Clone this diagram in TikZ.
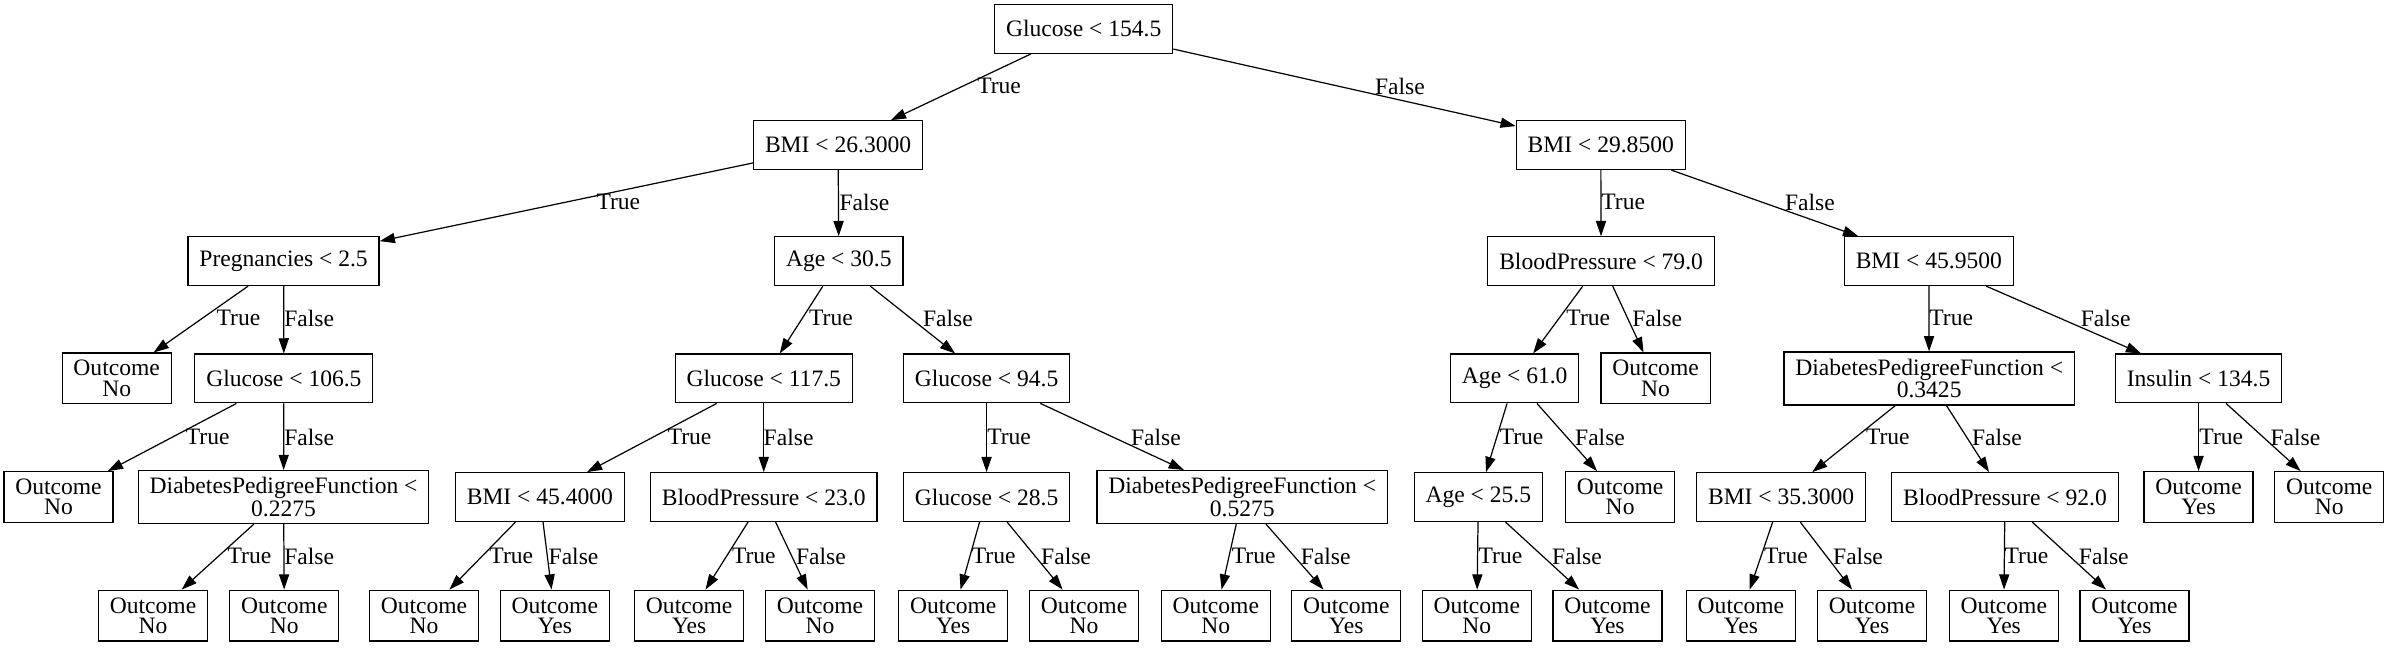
\documentclass[tikz,border=0pt]{standalone}
\usepackage{fontspec}
\setmainfont{Liberation Serif}
\usepackage{tikz}
\usetikzlibrary{arrows.meta}
\tikzstyle{split} = [draw, rectangle, line width=0.6pt, minimum height=24pt, inner xsep=5.6pt, align=center, font=\fontsize{11.6}{10}\selectfont]
\tikzstyle{leaf} = [split, minimum height=25pt]
\tikzstyle{branch} = [line width=0.6pt, -{Triangle[length=7.5pt, width=5pt]}]
\tikzstyle{cond} = [inner sep=0pt, font=\fontsize{11.6}{10}\selectfont]

\begin{document}
\begin{tikzpicture}[x=0.75pt, y=-0.75pt]
\useasboundingbox (0,0) rectangle (1568,425);

\node[split] (r) at (711.6,19) {Glucose < 154.5};

\node[split] (rT) at (550.3,95.3) {BMI < 26.3000};
\node[split] (rF) at (1051.1,95.3) {BMI < 29.8500};

\node[split] (rTT) at (186.2,171.5) {Pregnancies < 2.5};
\node[split] (rTF) at (550.8,171.5) {Age < 30.5};
\node[split] (rFT) at (1051.3,171.5) {BloodPressure < 79.0};
\node[split] (rFF) at (1266.5,171.5) {BMI < 45.9500};

\node[leaf] (rTTT) at (76.6,248.5) {Outcome\\No};
\node[split] (rTTF) at (186.4,248.5) {Glucose < 106.5};
\node[split] (rTFT) at (501.5,248.5) {Glucose < 117.5};
\node[split] (rTFF) at (647.8,248.5) {Glucose < 94.5};
\node[split] (rFTT) at (994.6,248.5) {Age < 61.0};
\node[leaf] (rFTF) at (1087.1,248.5) {Outcome\\No};
\node[leaf] (rFFT) at (1266.7,248.5) {DiabetesPedigreeFunction <\\0.3425};
\node[split] (rFFF) at (1443.6,248.5) {Insulin < 134.5};

\node[leaf] (rTTFT) at (38.4,326.4) {Outcome\\No};
\node[leaf] (rTTFF) at (186.2,326.4) {DiabetesPedigreeFunction <\\0.2275};
\node[split] (rTFTT) at (354.5,326.4) {BMI < 45.4000};
\node[split] (rTFTF) at (501.5,326.4) {BloodPressure < 23.0};
\node[split] (rTFFT) at (647.8,326.4) {Glucose < 28.5};
\node[leaf] (rTFFF) at (815.7,326.4) {DiabetesPedigreeFunction <\\0.5275};
\node[split] (rFTTT) at (970.7,326.4) {Age < 25.5};
\node[leaf] (rFTTF) at (1063.8,326.4) {Outcome\\No};
\node[split] (rFFTT) at (1169.5,326.4) {BMI < 35.3000};
\node[split] (rFFTF) at (1316.5,326.4) {BloodPressure < 92.0};
\node[leaf] (rFFFT) at (1443.6,326.4) {Outcome\\Yes};
\node[leaf] (rFFFF) at (1529.4,326.4) {Outcome\\No};

\node[leaf] (rTTFFT) at (100.5,404.2) {Outcome\\No};
\node[leaf] (rTTFFF) at (186.7,404.2) {Outcome\\No};
\node[leaf] (rTFTTT) at (278.4,404.2) {Outcome\\No};
\node[leaf] (rTFTTF) at (364.3,404.2) {Outcome\\Yes};
\node[leaf] (rTFTFT) at (452.5,404.2) {Outcome\\Yes};
\node[leaf] (rTFTFF) at (538.4,404.2) {Outcome\\No};
\node[leaf] (rTFFTT) at (625.9,404.2) {Outcome\\Yes};
\node[leaf] (rTFFTF) at (711.8,404.2) {Outcome\\No};
\node[leaf] (rTFFFT) at (798.3,404.2) {Outcome\\No};
\node[leaf] (rTFFFF) at (884,404.2) {Outcome\\Yes};
\node[leaf] (rFTTTT) at (969.7,404.2) {Outcome\\No};
\node[leaf] (rFTTTF) at (1055.5,404.2) {Outcome\\Yes};
\node[leaf] (rFFTTT) at (1143.1,404.2) {Outcome\\Yes};
\node[leaf] (rFFTTF) at (1229.2,404.2) {Outcome\\Yes};
\node[leaf] (rFFTFT) at (1315.7,404.2) {Outcome\\Yes};
\node[leaf] (rFFTFF) at (1401.5,404.2) {Outcome\\Yes};

\draw[branch] (r) -- (rT) node[cond] at (656,56.7) {True};
\draw[branch] (r) -- (rF) node[cond] at (919.2,56.7) {False};

\draw[branch] (rT) -- (rTT) node[cond] at (406,132.8) {True};
\draw[branch] (rT) -- (rTF) node[cond] at (567.6,132.8) {False};
\draw[branch] (rF) -- (rFT) node[cond] at (1065.8,132.8) {True};
\draw[branch] (rF) -- (rFF) node[cond] at (1188.4,132.8) {False};

\draw[branch] (rTT) -- (rTTT) node[cond] at (156.6,209) {True};
\draw[branch] (rTT) -- (rTTF) node[cond] at (203,209) {False};
\draw[branch] (rTF) -- (rTFT) node[cond] at (545.6,209) {True};
\draw[branch] (rTF) -- (rTFF) node[cond] at (622.4,209) {False};
\draw[branch] (rFT) -- (rFTT) node[cond] at (1042.9,209) {True};
\draw[branch] (rFT) -- (rFTF) node[cond] at (1088.1,209) {False};
\draw[branch] (rFF) -- (rFFT) node[cond] at (1281.2,209) {True};
\draw[branch] (rFF) -- (rFFF) node[cond] at (1382.6,209) {False};

\draw[branch] (rTTF) -- (rTTFT) node[cond] at (136.4,287.2) {True};
\draw[branch] (rTTF) -- (rTTFF) node[cond] at (203,287.2) {False};
\draw[branch] (rTFT) -- (rTFTT) node[cond] at (452.8,287.2) {True};
\draw[branch] (rTFT) -- (rTFTF) node[cond] at (517.8,287.2) {False};
\draw[branch] (rTFF) -- (rTFFT) node[cond] at (662.6,287.2) {True};
\draw[branch] (rTFF) -- (rTFFF) node[cond] at (759,287.2) {False};
\draw[branch] (rFTT) -- (rFTTT) node[cond] at (999.1,287.2) {True};
\draw[branch] (rFTT) -- (rFTTF) node[cond] at (1050.6,287.2) {False};
\draw[branch] (rFFT) -- (rFFTT) node[cond] at (1239.6,287.2) {True};
\draw[branch] (rFFT) -- (rFFTF) node[cond] at (1311.2,287.2) {False};
\draw[branch] (rFFF) -- (rFFFT) node[cond] at (1458.5,287.2) {True};
\draw[branch] (rFFF) -- (rFFFF) node[cond] at (1507.2,287.2) {False};

\draw[branch] (rTTFF) -- (rTTFFT) node[cond] at (163.8,365.3) {True};
\draw[branch] (rTTFF) -- (rTTFFF) node[cond] at (203,365.3) {False};
\draw[branch] (rTFTT) -- (rTFTTT) node[cond] at (335.7,365.3) {True};
\draw[branch] (rTFTT) -- (rTFTTF) node[cond] at (376.6,365.3) {False};
\draw[branch] (rTFTF) -- (rTFTFT) node[cond] at (495,365.3) {True};
\draw[branch] (rTFTF) -- (rTFTFF) node[cond] at (539,365.3) {False};
\draw[branch] (rTFFT) -- (rTFFTT) node[cond] at (652.5,365.3) {True};
\draw[branch] (rTFFT) -- (rTFFTF) node[cond] at (700,365.3) {False};
\draw[branch] (rTFFF) -- (rTFFFT) node[cond] at (823.2,365.3) {True};
\draw[branch] (rTFFF) -- (rTFFFF) node[cond] at (870.5,365.3) {False};
\draw[branch] (rFTTT) -- (rFTTTT) node[cond] at (985.2,365.3) {True};
\draw[branch] (rFTTT) -- (rFTTTF) node[cond] at (1035.4,365.3) {False};
\draw[branch] (rFFTT) -- (rFFTTT) node[cond] at (1172.7,365.3) {True};
\draw[branch] (rFFTT) -- (rFFTTF) node[cond] at (1220,365.3) {False};
\draw[branch] (rFFTF) -- (rFFTFT) node[cond] at (1330.6,365.3) {True};
\draw[branch] (rFFTF) -- (rFFTFF) node[cond] at (1381.4,365.3) {False};
\end{tikzpicture}
\end{document}
